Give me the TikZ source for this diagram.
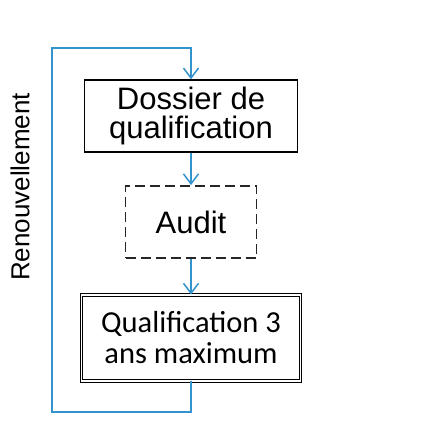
\documentclass[tikz,border=0pt]{standalone}
\usepackage{fontspec}
\setmainfont{Liberation Sans}
\newfontfamily\calfont{Carlito}
\usetikzlibrary{arrows.meta}
\definecolor{loopblue}{RGB}{52,146,204}
\tikzset{
  flow/.style={draw=loopblue, line width=1.5pt, -{Straight Barb[length=10pt,width=15pt,line width=1.5pt]}},
  plainbox/.style={draw, line width=1.5pt, inner sep=0pt, align=center, font=\fontsize{31}{29}\selectfont},
  auditbox/.style={draw=black!85, line width=1.8pt, dash pattern=on 10pt off 5pt, inner sep=0pt, align=center, font=\fontsize{31}{30}\selectfont},
  finalbox/.style={draw, double, double distance=1.6pt, line width=0.9pt, inner sep=0pt, align=center, font=\calfont\fontsize{30.5}{31}\selectfont}
}
\begin{document}
\begin{tikzpicture}[x=1pt,y=-1pt]
   \useasboundingbox (0,0) rectangle (425,432);
   \node [plainbox, minimum width=213pt, minimum height=72pt] (dq) at (191,116) {Dossier de\\qualification};
   \node [auditbox, minimum width=131pt, minimum height=72pt] (au) at (191,222) {Audit};
   \node [finalbox, minimum width=219pt, minimum height=86pt] (q3) at (191,338) {Qualification 3\\ans maximum};
   \node [rotate=90, font=\fontsize{26}{26}\selectfont] (renew) at (20,187) {Renouvellement};
   \coordinate (lb) at (52,412);
   \coordinate (lt) at (52,48);
   \draw [flow] (dq.south) -- (au.north);
   \draw [flow] (au.south) -- (q3.north);
   \draw [flow] (q3.south) |- (lb) -- (lt) -| (dq.north);
\end{tikzpicture}
\end{document}
